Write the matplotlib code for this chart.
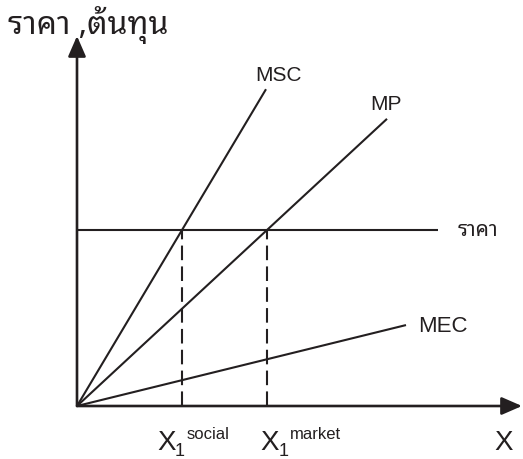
import matplotlib
matplotlib.use('Agg')
import matplotlib.pyplot as plt

plt.rcParams['font.family'] = ['Liberation Sans', 'Noto Sans Thai Looped', 'DejaVu Sans']

# ข้อมูลของแผนภาพ (หน่วยสมมติ)
price = 8.8
curve_names = ['MSC', 'MP', 'MEC']
curve_slopes = [8.8 / 5.25, 8.8 / 9.5, 0.246]
curve_x_end = [9.45, 15.5, 16.45]
price_x_end = 18.05
x_axis_end = 22.25
y_axis_end = 18.5
q_labels = ['social', 'market']
INK = '#231f20'
THAI = ['Noto Sans Thai Looped', 'DejaVu Sans']

fig = plt.figure(figsize=(5.23, 4.6), dpi=100)
ax = fig.add_axes([0, 0, 1, 1])
ax.set_xlim(-3.85, 22.3)
ax.set_ylim(-2.65, 20.35)
ax.axis('off')

# แกน
arrow = dict(arrowstyle='-|>,head_length=0.62,head_width=0.27',
             lw=1.9, color=INK, shrinkA=0, shrinkB=0, mutation_scale=20)
ax.annotate('', xy=(x_axis_end, 0), xytext=(0, 0), arrowprops=arrow)
ax.annotate('', xy=(0, y_axis_end), xytext=(0, 0), arrowprops=arrow)

# เส้นราคา
ax.plot([0, price_x_end], [price, price], color=INK, lw=1.5, solid_capstyle='butt')
ax.text(price_x_end + 1.0, price, 'ราคา', fontsize=15, color=INK,
        va='center', ha='left', family=THAI, fontweight='light')

# เส้นต้นทุน
offsets = {'MSC': (-8, 4), 'MP': (-12, 4), 'MEC': (9, 0)}
sizes = {'MSC': 15, 'MP': 15, 'MEC': 16}
for name, k, xe in zip(curve_names, curve_slopes, curve_x_end):
    ax.plot([0, xe], [0, k * xe], color=INK, lw=1.5, solid_capstyle='butt')
    dx, dy = offsets[name]
    va = 'center' if name == 'MEC' else 'bottom'
    ax.annotate(name, xy=(xe, k * xe), xytext=(dx, dy), textcoords='offset points',
                fontsize=sizes[name], color=INK, ha='left', va=va)

# จุดตัดกับราคา
q_social = price / curve_slopes[0]
q_market = price / curve_slopes[1]
label_shift = [0, 13.5]
for q, lab, sh in zip([q_social, q_market], q_labels, label_shift):
    ax.plot([q, q], [0, price], color=INK, lw=1.5, dashes=(7, 3))
    ax.annotate('X', xy=(q, 0), xytext=(-18 + sh, -26), textcoords='offset points',
                fontsize=20, color=INK, ha='left', va='center')
    ax.annotate('1', xy=(q, 0), xytext=(-5 + sh, -32), textcoords='offset points',
                fontsize=13, color=INK, ha='left', va='center')
    ax.annotate(lab, xy=(q, 0), xytext=(3 + sh, -20), textcoords='offset points',
                fontsize=12, color=INK, ha='left', va='center')

ax.annotate('X', xy=(x_axis_end, 0), xytext=(-13, -26), textcoords='offset points',
            fontsize=20, color=INK, ha='center', va='center')
ax.text(-3.45, y_axis_end + 0.6, 'ราคา ,ต้นทุน', fontsize=23, color=INK,
        ha='left', va='center', family=THAI, fontweight='light')

fig.savefig('out.png')
